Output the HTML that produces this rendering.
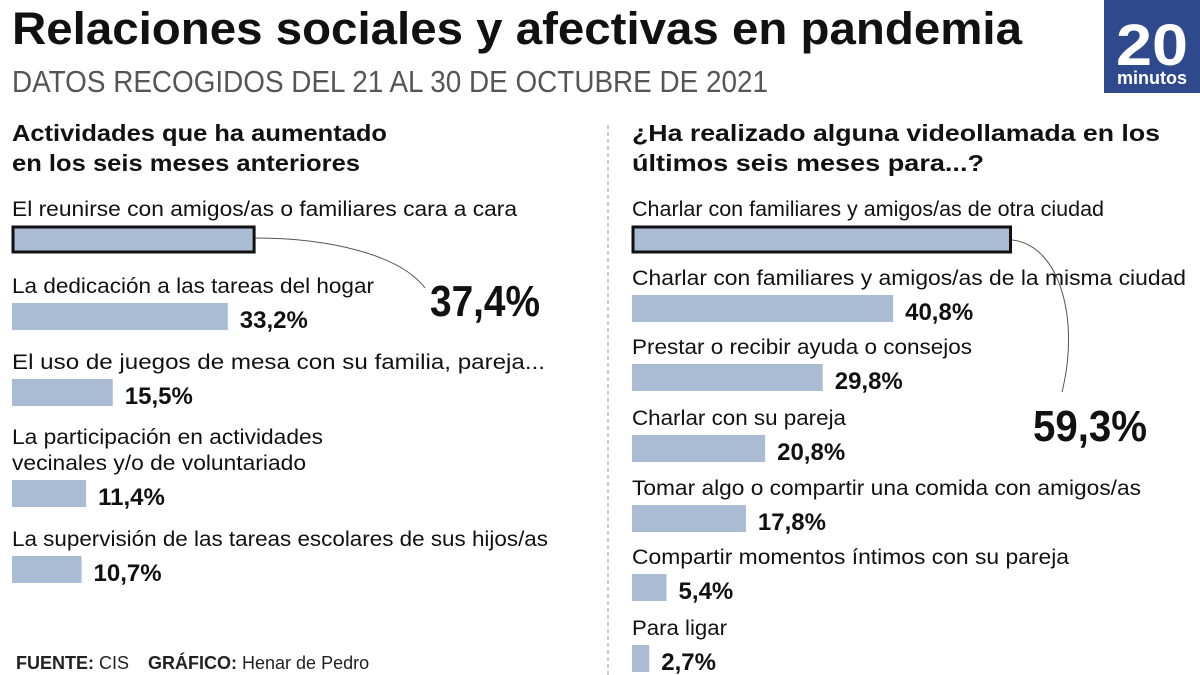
<!DOCTYPE html>
<html><head><meta charset="utf-8"><style>
body{margin:0;background:#fff;}
svg{display:block;font-family:"Liberation Sans Narrow","Liberation Sans",sans-serif;}
</style></head><body>
<svg id="c" width="1200" height="675" viewBox="0 0 1200 675">
<text x="12" y="44" font-size="45" font-weight="bold" fill="#111" textLength="1010" lengthAdjust="spacingAndGlyphs">Relaciones sociales y afectivas en pandemia</text>
<text x="12" y="92" font-size="31" fill="#555" textLength="756" lengthAdjust="spacingAndGlyphs">DATOS RECOGIDOS DEL 21 AL 30 DE OCTUBRE DE 2021</text>
<g>
<rect x="1104" y="0" width="96" height="93" fill="#2e4a8c"/>
<text x="1152" y="65" font-size="58" font-weight="bold" fill="#fff" text-anchor="middle" font-family="Liberation Sans" textLength="72" lengthAdjust="spacingAndGlyphs">20</text>
<text x="1152" y="84" font-size="18" font-weight="bold" fill="#fff" text-anchor="middle" font-family="Liberation Sans" textLength="70" lengthAdjust="spacingAndGlyphs">minutos</text>
</g>
<line x1="608" y1="125" x2="608" y2="675" stroke="#999" stroke-dasharray="4,3"/>
<text x="12" y="141" font-size="23" font-weight="bold" fill="#111" textLength="375" lengthAdjust="spacingAndGlyphs">Actividades que ha aumentado</text>
<text x="12" y="171" font-size="23" font-weight="bold" fill="#111" textLength="348" lengthAdjust="spacingAndGlyphs">en los seis meses anteriores</text>
<text x="632" y="141" font-size="23" font-weight="bold" fill="#111" textLength="528" lengthAdjust="spacingAndGlyphs">¿Ha realizado alguna videollamada en los</text>
<text x="632" y="171" font-size="23" font-weight="bold" fill="#111" textLength="352" lengthAdjust="spacingAndGlyphs">últimos seis meses para...?</text>
<text x="16" y="669" font-size="18" fill="#222"><tspan font-weight="bold">FUENTE:</tspan> CIS <tspan dx="14" font-weight="bold">GRÁFICO:</tspan> Henar de Pedro</text>
<path d="M255,238 C330,238 400,255 425,288" fill="none" stroke="#555" stroke-width="1"/>
<path d="M1012,240 C1060,245 1080,320 1062,392" fill="none" stroke="#555" stroke-width="1"/>
<text x="430" y="316" font-size="44" font-weight="bold" fill="#111" textLength="110" lengthAdjust="spacingAndGlyphs">37,4%</text>
<text x="1033" y="441" font-size="44" font-weight="bold" fill="#111" textLength="114" lengthAdjust="spacingAndGlyphs">59,3%</text>
</svg>
<script>
const leftLabels=[["El reunirse con amigos/as o familiares cara a cara"],["La dedicación a las tareas del hogar"],["El uso de juegos de mesa con su familia, pareja..."],["La participación en actividades","vecinales y/o de voluntariado"],["La supervisión de las tareas escolares de sus hijos/as"]];
const leftValues=[37.4,33.2,15.5,11.4,10.7];
const leftLabelLen=[[505],[362],[533],[311,294],[536]];
const rightLabels=["Charlar con familiares y amigos/as de otra ciudad","Charlar con familiares y amigos/as de la misma ciudad","Prestar o recibir ayuda o consejos","Charlar con su pareja","Tomar algo o compartir una comida con amigos/as","Compartir momentos íntimos con su pareja","Para ligar"];
const rightValues=[59.3,40.8,29.8,20.8,17.8,5.4,2.7];
const rightLabelLen=[472,554,340,214,509,437,95];
const svg=document.getElementById('c');const NS='http://www.w3.org/2000/svg';
function mk(t,a){const e=document.createElementNS(NS,t);for(const k in a)e.setAttribute(k,a[k]);svg.appendChild(e);return e;}
function fmt(v){return v.toFixed(1).replace('.',',')+'%';}
const lx=v=>12+v*6.5, rx=v=>632+v*6.4;
const leftBarY=[226,303,379,480,556];
leftValues.forEach((v,i)=>{
  const y=leftBarY[i];
  leftLabels[i].forEach((l,j)=>{
    const t=mk('text',{x:12,y:y-10-(leftLabels[i].length-1-j)*26,'font-size':21,fill:'#111',textLength:leftLabelLen[i][j],lengthAdjust:'spacingAndGlyphs'});t.textContent=l;
    
    
  });
  const hl=i===0;
  const r=mk('rect',{x:hl?13:12,y:hl?y+1:y,width:hl?lx(v)-14:lx(v)-12,height:hl?25:27,fill:'#a9bcd4',stroke:hl?'#111':'none','stroke-width':hl?3:0});
  
  
  if(!hl){const t=mk('text',{x:lx(v)+12,y:y+25,'font-size':24,'font-weight':'bold',fill:'#111'});t.textContent=fmt(v);
  
  }
});
const rightBarY=[226,295,364,435,505,574,645];
rightValues.forEach((v,i)=>{
  const y=rightBarY[i];
  const t=mk('text',{x:632,y:y-10,'font-size':21,fill:'#111',textLength:rightLabelLen[i],lengthAdjust:'spacingAndGlyphs'});t.textContent=rightLabels[i];
  
  
  const hl=i===0;
  const r=mk('rect',{x:hl?633:632,y:hl?y+1:y,width:hl?rx(v)-634:rx(v)-632,height:hl?25:27,fill:'#a9bcd4',stroke:hl?'#111':'none','stroke-width':hl?3:0});
  
  
  if(!hl){const s=mk('text',{x:rx(v)+12,y:y+25,'font-size':24,'font-weight':'bold',fill:'#111'});s.textContent=fmt(v);
  
  }
});
</script>
</body></html>
